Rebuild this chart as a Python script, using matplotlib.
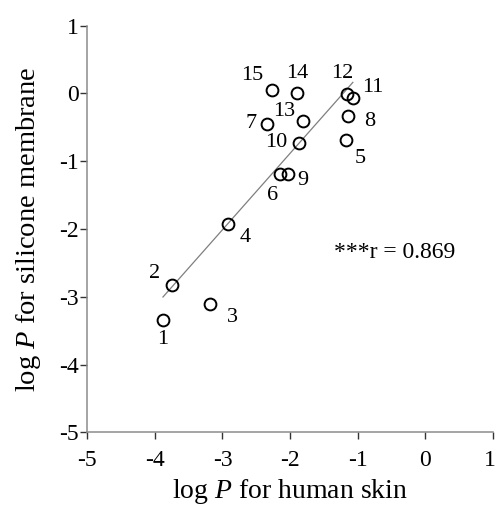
# log P scatter: silicone membrane vs human skin

import numpy as np
import matplotlib
matplotlib.use("Agg")
import matplotlib.pyplot as plt
import matplotlib.transforms as mtransforms

# compound numbers and read-off values
ids = [1, 2, 3, 4, 5, 6, 7, 8, 9, 10, 11, 12, 13, 14, 15]
skin = [-3.88, -3.74, -3.18, -2.92, -1.17, -2.15, -2.34, -1.14, -2.03, -1.86,
        -1.07, -1.16, -1.81, -1.89, -2.27]
silicone = [-3.35, -2.83, -3.11, -1.93, -0.69, -1.19, -0.45, -0.33, -1.19, -0.73,
            -0.06, -0.01, -0.40, 0.01, 0.05]
r_text = "***r = 0.869"

# where each number label sits relative to its circle (pixels)
label_offsets = {1: (0, -19), 2: (-18, 12), 3: (22, -13), 4: (17, -13),
                 5: (14, -18), 6: (-7, -21), 7: (-16, 0), 8: (22, -6),
                 9: (15, -6), 10: (-23, 0), 11: (20, 10), 12: (-5, 21),
                 13: (-19, 9), 14: (0, 19), 15: (-20, 15)}

plt.rcParams['font.family'] = ['Liberation Serif', 'DejaVu Serif']
plt.rcParams['mathtext.fontset'] = 'custom'
plt.rcParams['mathtext.it'] = 'Liberation Serif:italic'
plt.rcParams['mathtext.rm'] = 'Liberation Serif'
plt.rcParams['axes.unicode_minus'] = False

fig = plt.figure(figsize=(4.96, 5.09), dpi=100)
ax = fig.add_axes([0.176, 0.1507, 0.8174, 0.7988])

# regression line over the data range
x = np.array(skin)
y = np.array(silicone)
slope, icpt = np.polyfit(x, y, 1)
xs = np.array([x.min(), x.max()])
ax.plot(xs, slope * xs + icpt, color='#7f7f7f', lw=0.9, zorder=1)

ax.plot(x, y, 'o', ms=8.5, mfc='none', mec='black', mew=1.4, zorder=2)

for i, xv, yv in zip(ids, skin, silicone):
    dx, dy = label_offsets[i]
    ax.annotate(str(i), (xv, yv), xytext=(dx, dy), textcoords='offset pixels',
                ha='center', va='center', fontsize=16)

ax.text(-1.35, -2.43, r_text, fontsize=17, ha='left', va='baseline')

ax.set_xlim(-5, 1)
ax.set_ylim(-5, 1)
ax.set_xticks(range(-5, 2))
ax.set_yticks(range(-5, 2))
for s in ['top', 'right']:
    ax.spines[s].set_visible(False)
for s in ['left', 'bottom']:
    ax.spines[s].set_color('#8c8c8c')
    ax.spines[s].set_linewidth(1.1)
ax.tick_params(direction='out', length=5, width=1.0, color='#333333',
               labelsize=17)
ax.tick_params(axis='x', pad=8)
ax.tick_params(axis='y', pad=1)

# nudge the last x tick label so it stays inside the picture
last = ax.get_xticklabels()[-1]
last.set_transform(last.get_transform() +
                   mtransforms.ScaledTranslation(-3 / 100, 0, fig.dpi_scale_trans))

ax.set_xlabel(r"log $P$ for human skin", fontsize=20, labelpad=4)
ax.set_ylabel(r"log $P$ for silicone membrane", fontsize=20.5, labelpad=12)

fig.savefig("out.png", dpi=100)
